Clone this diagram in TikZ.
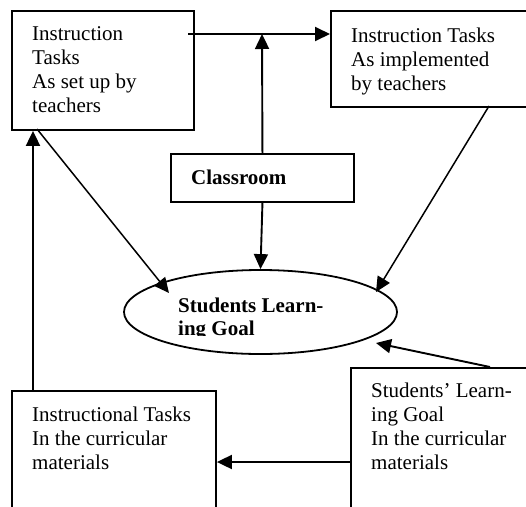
\documentclass[tikz,border=0pt]{standalone}
\usepackage{fontspec}
\setmainfont{Liberation Serif}
\usetikzlibrary{arrows.meta,shapes.geometric}
\begin{document}
\begin{tikzpicture}[x=1pt,y=-1pt,
  frame/.style={draw, line width=1.9pt, inner sep=0pt, anchor=north west},
  boxtext/.style={inner sep=0pt, anchor=base west, font=\fontsize{21}{24}\selectfont},
  link/.style={line width=1.9pt, -{Triangle[length=15pt,width=14pt]}},
  slant/.style={line width=1.5pt, -{Triangle[length=15pt,width=14pt]}}
]
\useasboundingbox (0,0) rectangle (526,506);
\clip (0,0) rectangle (526,506);

% boxes
\node[frame, minimum width=182pt, minimum height=119pt] (setup) at (11,10) {};
\node[frame, minimum width=220pt, minimum height=96pt] (impl) at (330,10) {};
\node[frame, minimum width=183pt, minimum height=48pt] (room) at (170,153) {};
\node[frame, minimum width=204pt, minimum height=140pt] (curtask) at (11,390) {};
\node[frame, minimum width=200pt, minimum height=160pt] (curgoal) at (350,367) {};
\node[draw, ellipse, line width=1.8pt, minimum width=273pt, minimum height=84pt] (goal) at (260.5,312) {};

% box texts
\node[boxtext] (setuptxt) at (32,40) {\begin{tabular}[t]{@{}l@{}}Instruction\\Tasks\\As set up by\\teachers\end{tabular}};
\node[boxtext] (impltxt) at (351,42) {\begin{tabular}[t]{@{}l@{}}Instruction Tasks\\As implemented\\by teachers\end{tabular}};
\node[boxtext, font=\fontsize{21}{24}\selectfont\bfseries] (roomtxt) at (191,184) {Classroom};
\node[boxtext] (curtasktxt) at (32,421) {\begin{tabular}[t]{@{}l@{}}Instructional Tasks\\In the curricular\\materials\end{tabular}};
\node[boxtext] (curgoaltxt) at (371,397) {\begin{tabular}[t]{@{}l@{}}Students’ Learn-\\ing Goal\\In the curricular\\materials\end{tabular}};
\begin{scope}
  \clip (120,250) rectangle (400,335);
  \node[boxtext, font=\fontsize{21}{23}\selectfont\bfseries] (goaltxt) at (178,312) {\begin{tabular}[t]{@{}l@{}}Students Learn-\\ing Goal\end{tabular}};
\end{scope}

% connector end points
\coordinate (hstart) at (188,34);
\coordinate (hend) at (262,34);
\coordinate (setupfoot) at (37,129);
\coordinate (goalnw) at (169,293);
\coordinate (implfoot) at (489,106);
\coordinate (goalne) at (376,292);
\coordinate (curgoaltop) at (490,367);
\coordinate (goalse) at (376,343);

% connectors
\draw[link] (hstart) -- (impl.west |- hstart);
\draw[link] (room.north) -- (hend);
\draw[link] (room.south) -- (goal.north);
\draw[slant] (setupfoot) -- (goalnw);
\draw[slant] (implfoot) -- (goalne);
\draw[link] (curgoaltop) -- (goalse);
\draw[link] (curgoal.west |- 0,462) -- (curtask.east |- 0,462);
\draw[link] (curtask.north -| 33,0) -- (setup.south -| 33,0);
\end{tikzpicture}
\end{document}
